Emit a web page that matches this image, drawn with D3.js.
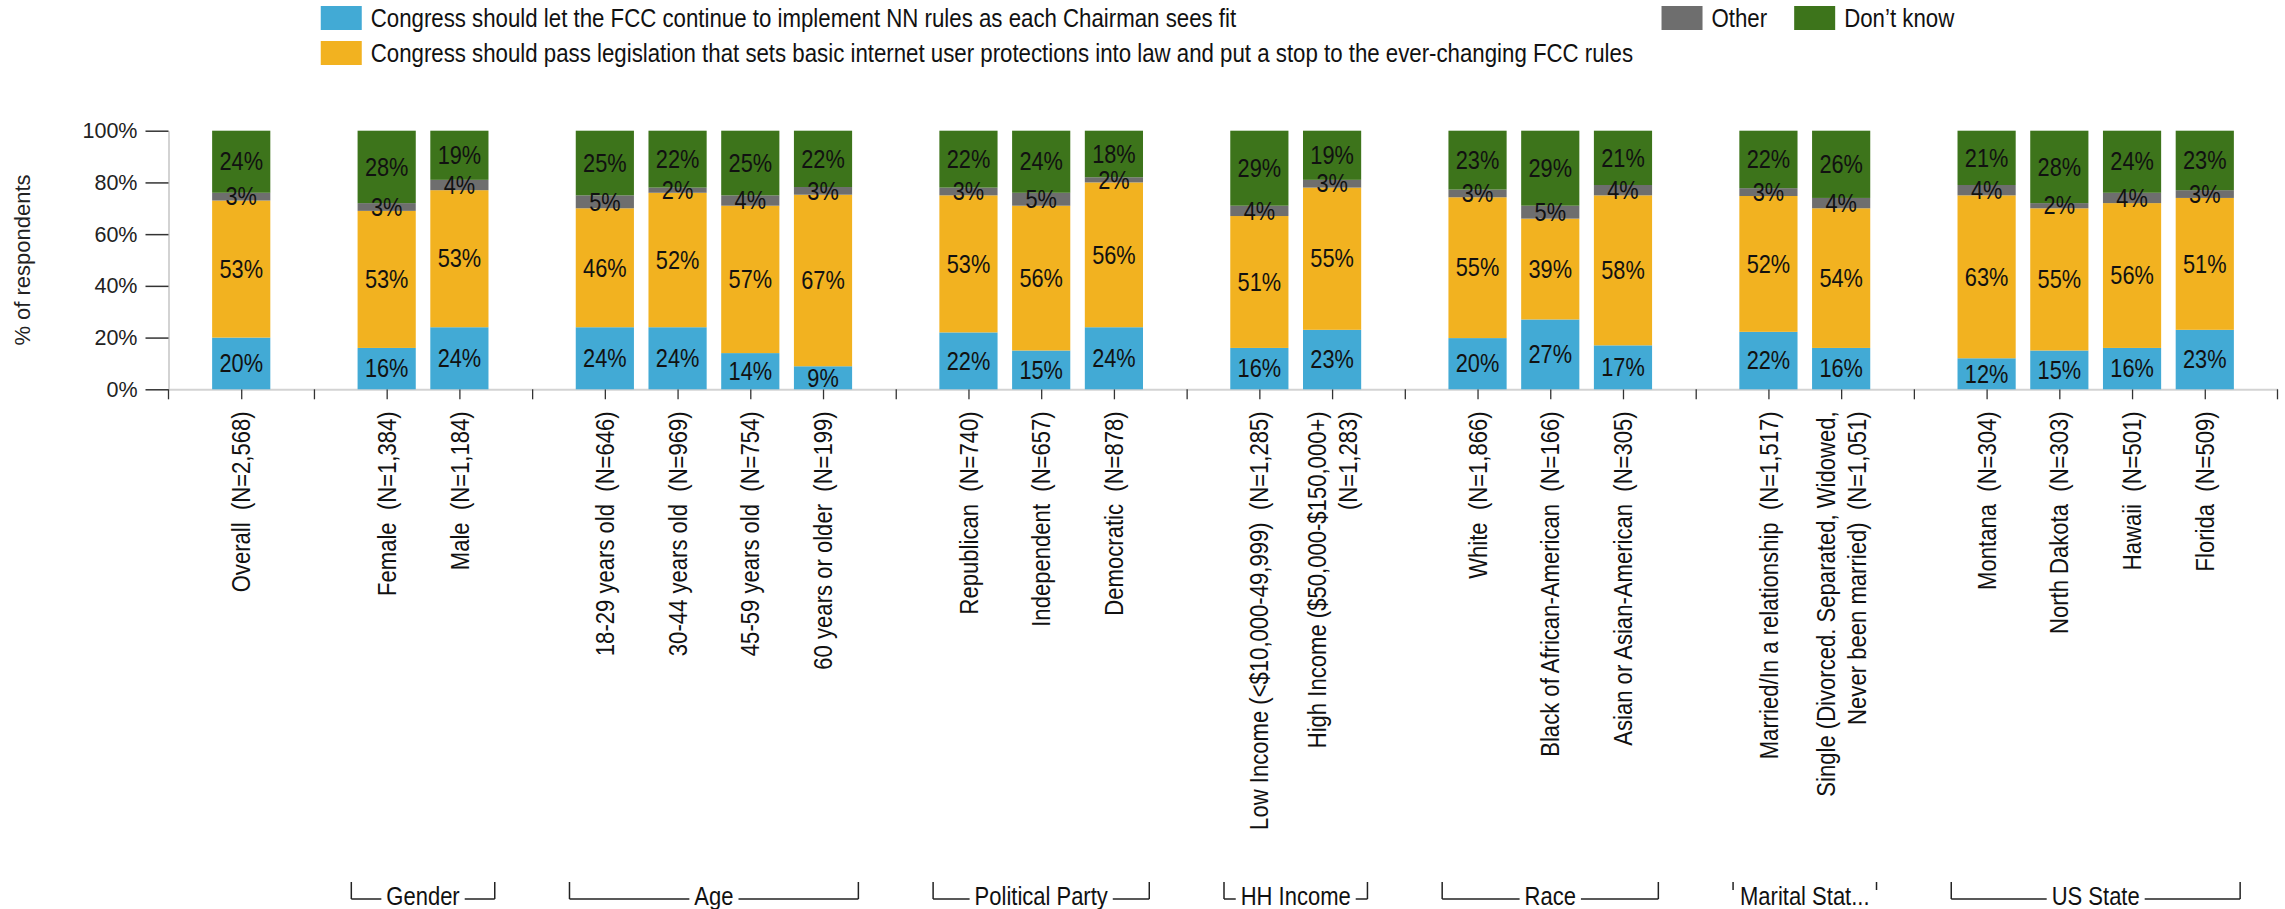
<!DOCTYPE html>
<html>
<head>
<meta charset="utf-8">
<script src="https://cdn.jsdelivr.net/npm/d3@7"></script>
<style>
  body { margin: 0; background: #fff; }
  svg { display: block; font-family: "Liberation Sans", Arial, sans-serif; }
  text { white-space: pre; }
</style>
</head>
<body>
<svg id="chart" width="2285" height="909"></svg>
<script>
// ----- data -----
const seriesNames = [
  "Congress should let the FCC continue to implement NN rules as each Chairman sees fit",
  "Congress should pass legislation that sets basic internet user protections into law and put a stop to the ever-changing FCC rules",
  "Other",
  "Don\u2019t know"
];
const seriesColors = ["#42aad5", "#f2b220", "#6e6e6e", "#3d741b"];

const groupNames = ["Overall", "Gender", "Age", "Political Party", "HH Income", "Race", "Marital Status", "US State"];

// "|" splits a label over two lines
const categories = [
  "Overall  (N=2,568)",
  "Female  (N=1,384)", "Male  (N=1,184)",
  "18-29 years old  (N=646)", "30-44 years old  (N=969)", "45-59 years old  (N=754)", "60 years or older  (N=199)",
  "Republican  (N=740)", "Independent  (N=657)", "Democratic  (N=878)",
  "Low Income (<$10,000-49,999)  (N=1,285)", "High Income ($50,000-$150,000+)|(N=1,283)",
  "White  (N=1,866)", "Black of African-American  (N=166)", "Asian or Asian-American  (N=305)",
  "Married/In a relationship  (N=1,517)", "Single (Divorced. Separated, Widowed,|Never been married)  (N=1,051)",
  "Montana  (N=304)", "North Dakota  (N=303)", "Hawaii  (N=501)", "Florida  (N=509)"
];
const categoryGroup = [0, 1, 1, 2, 2, 2, 2, 3, 3, 3, 4, 4, 5, 5, 5, 6, 6, 7, 7, 7, 7];

const letFcc   = [20, 16, 24, 24, 24, 14, 9, 22, 15, 24, 16, 23, 20, 27, 17, 22, 16, 12, 15, 16, 23];
const passLaw  = [53, 53, 53, 46, 52, 57, 67, 53, 56, 56, 51, 55, 55, 39, 58, 52, 54, 63, 55, 56, 51];
const other    = [3, 3, 4, 5, 2, 4, 3, 3, 5, 2, 4, 3, 3, 5, 4, 3, 4, 4, 2, 4, 3];
const dontKnow = [24, 28, 19, 25, 22, 25, 22, 22, 24, 18, 29, 19, 23, 29, 21, 22, 26, 21, 28, 24, 23];

const yTicks = [0, 20, 40, 60, 80, 100];

// ----- layout -----
const W = 2285, H = 909;
const plot = { left: 168.5, right: 2277.5, top: 130.7, bottom: 389.3 };
const svg = d3.select("#chart");

// one slot per category plus an empty slot between groups
const slots = [];
categories.forEach((c, i) => {
  if (i > 0 && categoryGroup[i] !== categoryGroup[i - 1]) slots.push("gap" + i);
  slots.push(c);
});

const x = d3.scalePoint().domain(slots).range([plot.left, plot.right]).padding(1);
const step = x.step();
const barW = step * 0.8;
const y = d3.scaleLinear().domain([0, 100]).range([plot.bottom, plot.top]);

const keys = ["letFcc", "passLaw", "other", "dontKnow"];
const rows = categories.map((c, i) => ({
  cat: c, letFcc: letFcc[i], passLaw: passLaw[i], other: other[i], dontKnow: dontKnow[i]
}));
const stacked = d3.stack().keys(keys).offset(d3.stackOffsetExpand)(rows);

// axes
const yAxis = svg.append("g")
  .attr("transform", `translate(${plot.left},0)`)
  .call(d3.axisLeft(y).tickValues(yTicks).tickFormat(d => d + "%")
    .tickSize(23).tickSizeOuter(0).tickPadding(8));
yAxis.select(".domain").attr("stroke", "#d3d3d3").attr("stroke-width", 2);
yAxis.selectAll(".tick line").attr("stroke", "#333").attr("stroke-width", 1.5);
yAxis.selectAll(".tick text").attr("font-size", 21.5).attr("fill", "#222")
  .attr("font-family", "'Liberation Sans', Arial, sans-serif");

const xAxis = svg.append("g")
  .attr("transform", `translate(0,${plot.bottom})`)
  .call(d3.axisBottom(x).tickSize(10).tickSizeOuter(0).tickFormat(""));
xAxis.select(".domain").attr("stroke", "#d3d3d3").attr("stroke-width", 2);
xAxis.selectAll(".tick line").attr("stroke", "#333").attr("stroke-width", 1.3);
// end ticks of the axis
xAxis.selectAll(".endtick").data(x.range()).join("line")
  .attr("class", "endtick")
  .attr("x1", d => d).attr("x2", d => d).attr("y1", 0).attr("y2", 10)
  .attr("stroke", "#333").attr("stroke-width", 1.3);

svg.append("text")
  .attr("transform", `translate(30,${(plot.top + plot.bottom) / 2}) rotate(-90)`)
  .attr("text-anchor", "middle")
  .attr("font-size", 22)
  .attr("fill", "#222")
  .text("% of respondents");

// bars
const layers = svg.append("g").selectAll("g").data(stacked).join("g")
  .attr("fill", (d, i) => seriesColors[i]);
layers.selectAll("rect").data(d => d).join("rect")
  .attr("x", d => x(d.data.cat) - barW / 2)
  .attr("y", d => y(d[1] * 100))
  .attr("width", barW)
  .attr("height", d => y(d[0] * 100) - y(d[1] * 100));

// value labels, centred in each segment
const labelG = svg.append("g");
stacked.forEach(layer => {
  labelG.selectAll(null).data(layer).join("text")
    .attr("transform", d => `translate(${x(d.data.cat)},${(y(d[0] * 100) + y(d[1] * 100)) / 2}) scale(0.87,1)`)
    .attr("text-anchor", "middle")
    .attr("dy", "0.35em")
    .attr("font-size", 25)
    .attr("fill", "#111")
    .text(d => d.data[layer.key] + "%");
});

// category labels, rotated
const catFs = 26;
categories.forEach(c => {
  const lines = c.split("|");
  const t = svg.append("text")
    .attr("transform", `translate(${x(c)},${plot.bottom + 22}) rotate(-90) scale(0.85,1)`)
    .attr("text-anchor", "end")
    .attr("font-size", catFs)
    .attr("fill", "#111");
  lines.forEach((ln, j) => {
    t.append("tspan")
      .attr("x", 0)
      .attr("y", catFs * ((j - (lines.length - 1) / 2) * 1.2 + 0.35))
      .text(ln);
  });
});

// group brackets along the bottom
const brG = svg.append("g").attr("stroke", "#222").attr("stroke-width", 1.5).attr("fill", "none");
const gScale = 0.88;
groupNames.forEach((name, gi) => {
  if (gi === 0) return;
  const members = categories.filter((c, i) => categoryGroup[i] === gi);
  const x0 = x(members[0]) - step / 2 + 1;
  const x1 = x(members[members.length - 1]) + step / 2 - 1;
  const mid = (x0 + x1) / 2;
  const bw = x1 - x0;
  const t = svg.append("text")
    .attr("transform", `translate(${mid},905) scale(${gScale},1)`)
    .attr("text-anchor", "middle")
    .attr("font-size", 25)
    .attr("fill", "#111")
    .text(name);
  let tw = t.node().getComputedTextLength() * gScale;
  const fits = tw + 24 <= bw;
  if (!fits) {
    let s = name;
    while (tw > bw - 10 && s.length > 1) {
      s = s.slice(0, -1);
      t.text(s.trimEnd() + "...");
      tw = t.node().getComputedTextLength() * gScale;
    }
  }
  const yTop = 882, yBot = fits ? 899 : 890;
  brG.append("line").attr("x1", x0).attr("x2", x0).attr("y1", yTop).attr("y2", yBot);
  brG.append("line").attr("x1", x1).attr("x2", x1).attr("y1", yTop).attr("y2", yBot);
  if (fits) {
    brG.append("line").attr("x1", x0).attr("x2", mid - tw / 2 - 5).attr("y1", 899).attr("y2", 899);
    brG.append("line").attr("x1", mid + tw / 2 + 5).attr("x2", x1).attr("y1", 899).attr("y2", 899);
  }
});

// legend: long items stacked in the first column, short ones on the first row
const lgScale = 0.89, sw = 41, sh = 24, sGap = 9;
const legend = svg.append("g");
const widths = seriesNames.map(n => {
  const t = legend.append("text").attr("font-size", 25).text(n);
  const w = t.node().getComputedTextLength() * lgScale;
  t.remove();
  return w;
});
const col1 = sw + sGap + Math.max(widths[0], widths[1]);
const otherW = sw + sGap + widths[2];
const dkW = sw + sGap + widths[3];
const total = col1 + 28 + otherW + 27 + dkW;
const lx = (W - total) / 2 - 5;
const items = [
  { i: 0, x: lx, y: 6 },
  { i: 1, x: lx, y: 41 },
  { i: 2, x: lx + col1 + 28, y: 6 },
  { i: 3, x: lx + col1 + 28 + otherW + 27, y: 6 }
];
items.forEach(it => {
  legend.append("rect")
    .attr("x", it.x).attr("y", it.y).attr("width", sw).attr("height", sh)
    .attr("fill", seriesColors[it.i]);
  legend.append("text")
    .attr("transform", `translate(${it.x + sw + sGap},${it.y + sh / 2}) scale(${lgScale},1)`)
    .attr("dy", "0.35em")
    .attr("font-size", 25)
    .attr("fill", "#111")
    .text(seriesNames[it.i]);
});
</script>
</body>
</html>
